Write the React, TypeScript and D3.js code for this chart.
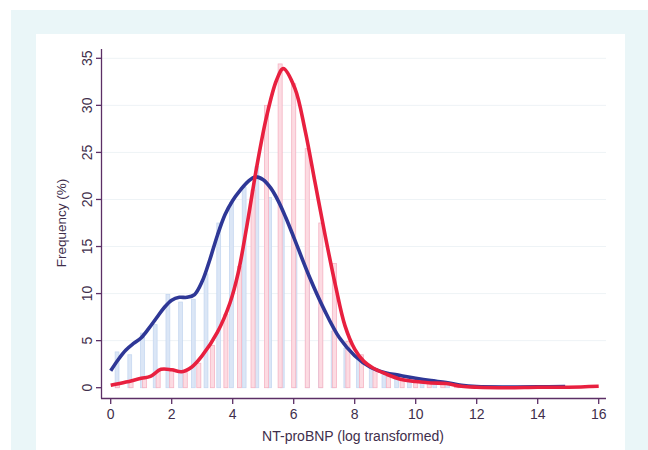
import React, { useRef, useEffect } from 'react';
import * as d3 from 'd3';

// histogram heights (%), 36 bins each
const blueBins = [3.8, 3.5, 5.8, 6.7, 9.9, 9.1, 9.4, 12.1, 17.5, 19.7, 21.3, 23.5, 20.2, 18.4, 15.0, 12.0, 8.5, 6.0,
  4.2, 3.2, 2.2, 1.7, 1.3, 1.1, 0.9, 0.7, 0.5, 0.3, 0.15, 0.1, 0.1, 0.05, 0.1, 0.1, 0.05, 0.1];
const pinkBins = [0.3, 0.7, 1.0, 1.7, 2.0, 1.6, 2.6, 4.5, 7.8, 12.9, 21.0, 30.0, 34.4, 32.3, 25.4, 17.5, 13.2, 4.9,
  3.5, 2.0, 1.2, 0.8, 0.6, 0.5, 0.4, 0.2, 0.1, 0.05, 0.05, 0.05, 0.05, 0.05, 0.05, 0.05, 0.05, 0.1];
const blueMax = 15;
const pinkMax = 16;

// smoothed density curves [x, %]
const blueCurve = [[0, 1.8], [0.25, 3.0], [0.5, 4.0], [0.75, 4.7], [1.0, 5.3], [1.25, 6.3], [1.5, 7.4], [1.75, 8.5],
  [2.0, 9.3], [2.25, 9.6], [2.5, 9.6], [2.75, 9.9], [3.0, 11.3], [3.25, 13.6], [3.5, 16.2], [3.75, 18.4], [4.0, 19.9],
  [4.25, 21.0], [4.5, 21.9], [4.75, 22.4], [5.0, 22.1], [5.25, 21.2], [5.5, 19.8], [5.75, 18.0], [6.0, 16.0],
  [6.5, 11.9], [7.0, 8.3], [7.5, 5.3], [8.0, 3.4], [8.5, 2.2], [9.0, 1.6], [9.5, 1.3], [10.0, 1.0], [10.5, 0.75],
  [11.0, 0.55], [11.5, 0.25], [12.0, 0.12], [13.0, 0.08], [14.0, 0.1], [14.9, 0.12]];
const redCurve = [[0, 0.25], [0.5, 0.6], [1.0, 1.0], [1.3, 1.2], [1.65, 1.95], [2.0, 1.9], [2.33, 1.7], [2.66, 2.2],
  [3.0, 3.4], [3.5, 5.9], [3.91, 9.0], [4.18, 12.2], [4.46, 17.1], [4.79, 23.5], [5.11, 28.8], [5.44, 32.7],
  [5.66, 33.9], [6.04, 31.8], [6.37, 27.4], [6.7, 21.8], [7.03, 16.2], [7.36, 11.0], [7.68, 6.6], [8.0, 4.1],
  [8.3, 2.8], [8.6, 2.1], [9.0, 1.5], [9.5, 0.9], [10.0, 0.65], [10.5, 0.5], [11.0, 0.45], [11.5, 0.15],
  [12.0, 0.05], [13.0, 0.0], [14.0, 0.05], [15.0, 0.05], [16.0, 0.15]];

const xTicks = [0, 2, 4, 6, 8, 10, 12, 14, 16];
const yTicks = [0, 5, 10, 15, 20, 25, 30, 35];

const textColor = '#3f2f4c';
const axisColor = '#5c2f66';
const font = '"Liberation Sans", Arial, sans-serif';

const Chart = () => {
  const ref = useRef();
  const width = 648, height = 450;
  const x = d3.scaleLinear().domain([0, 16]).range([110.7, 598.7]);
  const y = d3.scaleLinear().domain([0, 35]).range([387.7, 58.3]);

  useEffect(() => {
    const g = d3.select(ref.current);
    g.selectAll('*').remove();

    // faint grid
    g.append('g')
      .selectAll('line')
      .data(yTicks.slice(1))
      .enter()
      .append('line')
      .attr('x1', 102).attr('x2', 606)
      .attr('y1', d => y(d)).attr('y2', d => y(d))
      .attr('stroke', '#eef3f6').attr('stroke-width', 1);

    // bars
    const drawBars = (vals, maxX, fill, stroke) => {
      const bw = maxX / vals.length;
      const barW = x(bw * 0.3) - x(0);
      g.append('g')
        .selectAll('rect')
        .data(vals)
        .enter()
        .append('rect')
        .attr('x', (d, i) => x(bw * (i + 0.5)) - barW / 2)
        .attr('width', barW)
        .attr('y', d => y(d))
        .attr('height', d => y(0) - y(d))
        .attr('fill', fill)
        .attr('stroke', stroke)
        .attr('stroke-width', 0.8);
    };
    drawBars(blueBins, blueMax, '#dbe6f6', '#c6d7f0');
    drawBars(pinkBins, pinkMax, '#fcdbe2', '#f5b3c3');

    // curves
    const lineGen = d3.line().x(d => x(d[0])).y(d => y(d[1])).curve(d3.curveCatmullRom.alpha(0.5));
    g.append('path').attr('d', lineGen(blueCurve)).attr('fill', 'none')
      .attr('stroke', '#2e3796').attr('stroke-width', 3.6).attr('stroke-linejoin', 'round');
    g.append('path').attr('d', lineGen(redCurve)).attr('fill', 'none')
      .attr('stroke', '#e8203f').attr('stroke-width', 3.6).attr('stroke-linejoin', 'round');

    // axes
    const yAxis = g.append('g');
    yAxis.append('line').attr('x1', 101.5).attr('x2', 101.5).attr('y1', 49).attr('y2', 398.5)
      .attr('stroke', axisColor).attr('stroke-width', 1.3);
    yAxis.selectAll('line.tick').data(yTicks).enter().append('line').attr('class', 'tick')
      .attr('x1', 96).attr('x2', 101.5).attr('y1', d => y(d)).attr('y2', d => y(d))
      .attr('stroke', axisColor).attr('stroke-width', 1.3);
    yAxis.selectAll('text').data(yTicks).enter().append('text')
      .attr('transform', d => `translate(91.5,${y(d)}) rotate(-90)`)
      .attr('text-anchor', 'middle')
      .style('font-family', font).style('font-size', '14px').attr('fill', textColor)
      .text(d => d);

    const xAxis = g.append('g');
    xAxis.append('line').attr('x1', 101).attr('x2', 606).attr('y1', 398.5).attr('y2', 398.5)
      .attr('stroke', axisColor).attr('stroke-width', 1.3);
    xAxis.selectAll('line.tick').data(xTicks).enter().append('line').attr('class', 'tick')
      .attr('x1', d => x(d)).attr('x2', d => x(d)).attr('y1', 398.5).attr('y2', 404)
      .attr('stroke', axisColor).attr('stroke-width', 1.3);
    xAxis.selectAll('text').data(xTicks).enter().append('text')
      .attr('x', d => x(d)).attr('y', 418.5)
      .attr('text-anchor', 'middle')
      .style('font-family', font).style('font-size', '14px').attr('fill', textColor)
      .text(d => d);

    g.append('text').attr('x', 353).attr('y', 441).attr('text-anchor', 'middle')
      .style('font-family', font).style('font-size', '14px').attr('fill', textColor)
      .text('NT-proBNP (log transformed)');
    g.append('text').attr('transform', `translate(66,${y(17.5)}) rotate(-90)`).attr('text-anchor', 'middle')
      .style('font-family', font).style('font-size', '13.5px').attr('fill', textColor)
      .text('Frequency (%)');
  }, []);

  return (
    <svg width={width} height={height} style={{ display: 'block' }}>
      <rect x={0} y={0} width={width} height={height} fill="#ffffff" />
      <rect x={11} y={10} width={width - 11} height={height - 10} fill="#eaf6f8" />
      <rect x={36} y={34} width={589} height={height - 34} fill="#ffffff" />
      <g ref={ref} />
    </svg>
  );
};

export default function App() {
  return (
    <div style={{ position: 'absolute', left: 0, top: 0 }}>
      <Chart />
    </div>
  );
}
